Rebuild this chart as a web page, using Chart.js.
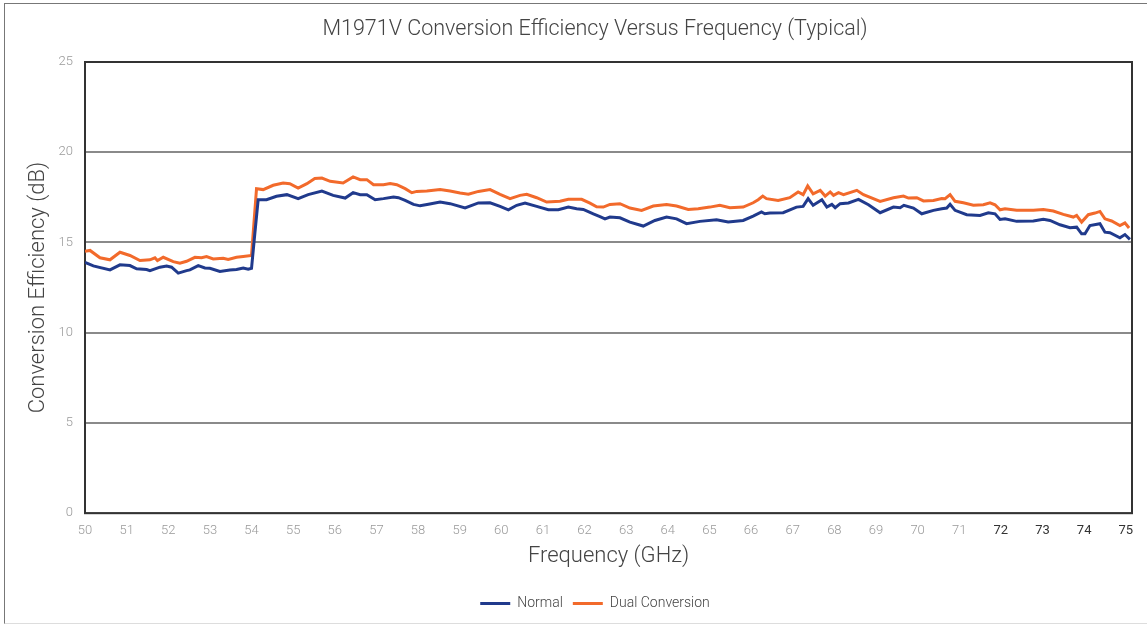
<!DOCTYPE html>
<html>
<head>
<meta charset="utf-8">
<title>M1971V Conversion Efficiency</title>
<script src="https://cdn.jsdelivr.net/npm/chart.js@4.4.1/dist/chart.umd.min.js"></script>
<style>
    body { margin: 0; background: #fff; }
    #frame {
        position: absolute; left: 4px; top: 3px; width: 1160px; height: 619px;
        border-left: 1px solid #777; border-top: 1px solid #777; border-bottom: 1px solid #ddd;
    }
    #efficiency-chart { position: absolute; left: 0; top: 0; }
</style>
</head>
<body>
<div id="frame"></div>
<canvas id="efficiency-chart" width="1147" height="625"></canvas>
<script>
// values (GHz, dB)
var normal_freq = [50.00, 50.20, 50.60, 50.84, 51.08, 51.24, 51.48, 51.56, 51.80, 51.96, 52.08, 52.24, 52.44, 52.52, 52.72, 52.88, 53.00, 53.24, 53.48, 53.64, 53.80, 53.92, 54.00,
    54.08, 54.16, 54.36, 54.60, 54.85, 55.12, 55.36, 55.69, 55.96, 56.25, 56.44, 56.61, 56.77, 56.97, 57.17, 57.41, 57.53, 57.69, 57.89, 58.05, 58.25, 58.53, 58.77,
    59.13, 59.45, 59.73, 59.97, 60.17, 60.37, 60.57, 60.85, 61.13, 61.37, 61.61, 61.81, 61.97, 62.21, 62.37, 62.49, 62.61, 62.85, 63.09, 63.41, 63.69, 63.97,
    64.21, 64.45, 64.77, 65.17, 65.45, 65.81, 66.05, 66.25, 66.33, 66.45, 66.77, 67.09, 67.25, 67.37, 67.49, 67.70, 67.82, 67.94, 68.02, 68.14, 68.34, 68.58,
    68.82, 69.10, 69.42, 69.58, 69.67, 69.90, 70.10, 70.38, 70.58, 70.70, 70.78, 70.90, 71.18, 71.50, 71.70, 71.86, 71.98, 72.10, 72.38, 72.78, 73.02, 73.18,
    73.42, 73.66, 73.82, 73.94, 74.02, 74.14, 74.38, 74.50, 74.62, 74.86, 74.98, 75.10];
var normal_db = [13.90, 13.70, 13.48, 13.76, 13.72, 13.54, 13.50, 13.44, 13.63, 13.69, 13.63, 13.30, 13.44, 13.48, 13.72, 13.59, 13.57, 13.39, 13.48, 13.50, 13.59, 13.52, 13.57,
    15.50, 17.37, 17.37, 17.56, 17.65, 17.43, 17.65, 17.85, 17.61, 17.46, 17.76, 17.65, 17.65, 17.37, 17.43, 17.52, 17.48, 17.33, 17.11, 17.03, 17.12, 17.24, 17.15,
    16.91, 17.19, 17.20, 17.00, 16.81, 17.06, 17.19, 17.00, 16.81, 16.81, 16.96, 16.87, 16.83, 16.58, 16.43, 16.31, 16.41, 16.37, 16.13, 15.91, 16.22, 16.41,
    16.31, 16.04, 16.17, 16.26, 16.13, 16.22, 16.46, 16.69, 16.59, 16.63, 16.65, 16.96, 17.00, 17.43, 17.06, 17.37, 16.96, 17.11, 16.93, 17.15, 17.19, 17.39,
    17.09, 16.65, 16.96, 16.93, 17.06, 16.91, 16.59, 16.78, 16.87, 16.91, 17.12, 16.78, 16.54, 16.50, 16.65, 16.59, 16.28, 16.31, 16.17, 16.19, 16.28, 16.22,
    15.98, 15.82, 15.85, 15.48, 15.48, 15.94, 16.04, 15.57, 15.54, 15.26, 15.44, 15.17];

var dual_freq = [50.00, 50.12, 50.36, 50.60, 50.84, 51.08, 51.32, 51.56, 51.68, 51.74, 51.88, 52.12, 52.28, 52.44, 52.64, 52.80, 52.92, 53.08, 53.32, 53.44, 53.64, 53.80, 54.00,
    54.12, 54.28, 54.52, 54.76, 54.92, 55.12, 55.33, 55.52, 55.69, 55.89, 56.20, 56.44, 56.61, 56.77, 56.93, 57.17, 57.33, 57.49, 57.69, 57.85, 57.97, 58.21,
    58.53, 58.77, 59.01, 59.21, 59.45, 59.73, 59.97, 60.21, 60.45, 60.61, 60.85, 61.09, 61.41, 61.61, 61.93, 62.13, 62.29, 62.45, 62.61, 62.85, 63.09, 63.37,
    63.65, 63.97, 64.21, 64.49, 64.73, 65.01, 65.25, 65.49, 65.81, 66.05, 66.17, 66.28, 66.37, 66.65, 66.93, 67.13, 67.25, 67.36, 67.49, 67.66, 67.78, 67.90,
    67.98, 68.10, 68.22, 68.54, 68.70, 69.10, 69.42, 69.66, 69.78, 69.98, 70.14, 70.38, 70.58, 70.66, 70.78, 70.90, 71.10, 71.34, 71.58, 71.74, 71.86, 71.98,
    72.10, 72.38, 72.78, 73.02, 73.26, 73.50, 73.74, 73.82, 73.94, 74.10, 74.26, 74.38, 74.50, 74.66, 74.86, 74.98, 75.08];
var dual_db = [14.52, 14.56, 14.15, 14.04, 14.46, 14.28, 14.00, 14.04, 14.15, 14.00, 14.18, 13.94, 13.85, 13.96, 14.18, 14.15, 14.22, 14.09, 14.13, 14.06, 14.18, 14.22, 14.28,
    17.98, 17.93, 18.17, 18.30, 18.26, 18.02, 18.26, 18.54, 18.57, 18.39, 18.30, 18.63, 18.48, 18.48, 18.20, 18.20, 18.26, 18.20, 17.98, 17.76, 17.83, 17.85,
    17.93, 17.85, 17.74, 17.67, 17.83, 17.93, 17.67, 17.43, 17.61, 17.67, 17.48, 17.24, 17.28, 17.39, 17.39, 17.18, 16.98, 16.96, 17.11, 17.15, 16.91, 16.78,
    17.02, 17.11, 17.02, 16.83, 16.87, 16.96, 17.06, 16.93, 16.96, 17.20, 17.37, 17.57, 17.43, 17.33, 17.48, 17.80, 17.65, 18.13, 17.70, 17.89, 17.57, 17.80,
    17.61, 17.76, 17.65, 17.89, 17.65, 17.28, 17.48, 17.57, 17.46, 17.48, 17.30, 17.33, 17.44, 17.43, 17.65, 17.28, 17.20, 17.06, 17.09, 17.20, 17.09, 16.81,
    16.87, 16.78, 16.78, 16.83, 16.74, 16.56, 16.41, 16.50, 16.13, 16.54, 16.63, 16.72, 16.31, 16.19, 15.94, 16.09, 15.80];

var series_names = ['Normal', 'Dual Conversion'];
var series_colors = ['#203a8c', '#f26a2b'];

function to_points(xs, ys) {
    var pts = [];
    for (var i = 0; i < xs.length; i++) {
        pts.push({x: xs[i], y: ys[i]});
    }
    return pts;
}

// dark frame around the plot area
var plot_frame = {
    id: 'plotFrame',
    beforeDatasetsDraw: function (chart) {
        var a = chart.chartArea;
        var ctx = chart.ctx;
        ctx.save();
        ctx.strokeStyle = '#333';
        ctx.lineWidth = 2;
        ctx.strokeRect(a.left, a.top, a.right - a.left, a.bottom - a.top);
        ctx.restore();
    }
};

var efficiency_chart = null;
$ready = function () {
    var ctx = document.getElementById('efficiency-chart').getContext('2d');
    if (efficiency_chart != null) {
        efficiency_chart.destroy()
    }
    efficiency_chart = new Chart(ctx, {
        type: 'line',
        data: {
            datasets: [{
                label: series_names[0],
                data: to_points(normal_freq, normal_db),
                borderColor: series_colors[0],
                backgroundColor: series_colors[0],
                borderWidth: 3,
                pointRadius: 0,
                fill: false,
            }, {
                label: series_names[1],
                data: to_points(dual_freq, dual_db),
                borderColor: series_colors[1],
                backgroundColor: series_colors[1],
                borderWidth: 3,
                pointRadius: 0,
                fill: false,
            }]
        },
        options: {
            responsive: false,
            animation: false,
            layout: {
                padding: {left: 58, right: 15, top: 0, bottom: 4.5}
            },
            scales: {
                x: {
                    type: 'linear',
                    min: 50,
                    max: 75.15,
                    grid: {display: false, drawTicks: false},
                    border: {display: false},
                    ticks: {
                        stepSize: 1,
                        includeBounds: false,
                        padding: 10,
                        maxRotation: 0,
                        autoSkip: false,
                        color: function (c) { return c.tick && c.tick.value >= 72 ? '#333' : '#999'; },
                        font: function (c) {
                            return {family: 'Roboto', size: 13, weight: (c.tick && c.tick.value >= 72) ? 400 : 300};
                        }
                    },
                    title: {
                        display: true,
                        text: 'Frequency (GHz)',
                        color: '#444',
                        font: {family: 'Roboto', size: 22, weight: 300},
                        padding: {top: -5.2, bottom: 16.5}
                    }
                },
                y: {
                    min: 0,
                    max: 25,
                    grid: {color: '#8a8a8a', lineWidth: 2, drawTicks: false},
                    border: {display: false},
                    ticks: {
                        stepSize: 5,
                        padding: 12,
                        color: '#999',
                        font: {family: 'Roboto', size: 13, weight: 300}
                    },
                    title: {
                        display: true,
                        text: 'Conversion Efficiency (dB)',
                        color: '#444',
                        font: {family: 'Roboto', size: 22, weight: 300},
                        padding: {top: -33.2, bottom: 0}
                    },
                    afterFit: function (scale) {
                        scale.width = 27;
                    }
                }
            },
            plugins: {
                title: {
                    display: true,
                    text: 'M1971V Conversion Efficiency Versus Frequency (Typical)',
                    color: '#444',
                    font: {family: 'Roboto', size: 21.5, weight: 300},
                    padding: {top: 17, bottom: 19.2}
                },
                legend: {
                    display: true,
                    position: 'bottom',
                    labels: {
                        usePointStyle: true,
                        pointStyle: 'line',
                        pointStyleWidth: 30,
                        color: '#444',
                        font: {family: 'Roboto', size: 14, weight: 300}
                    }
                },
                tooltip: {enabled: false}
            }
        },
        plugins: [plot_frame]
    });
};
$ready();
</script>
</body>
</html>
